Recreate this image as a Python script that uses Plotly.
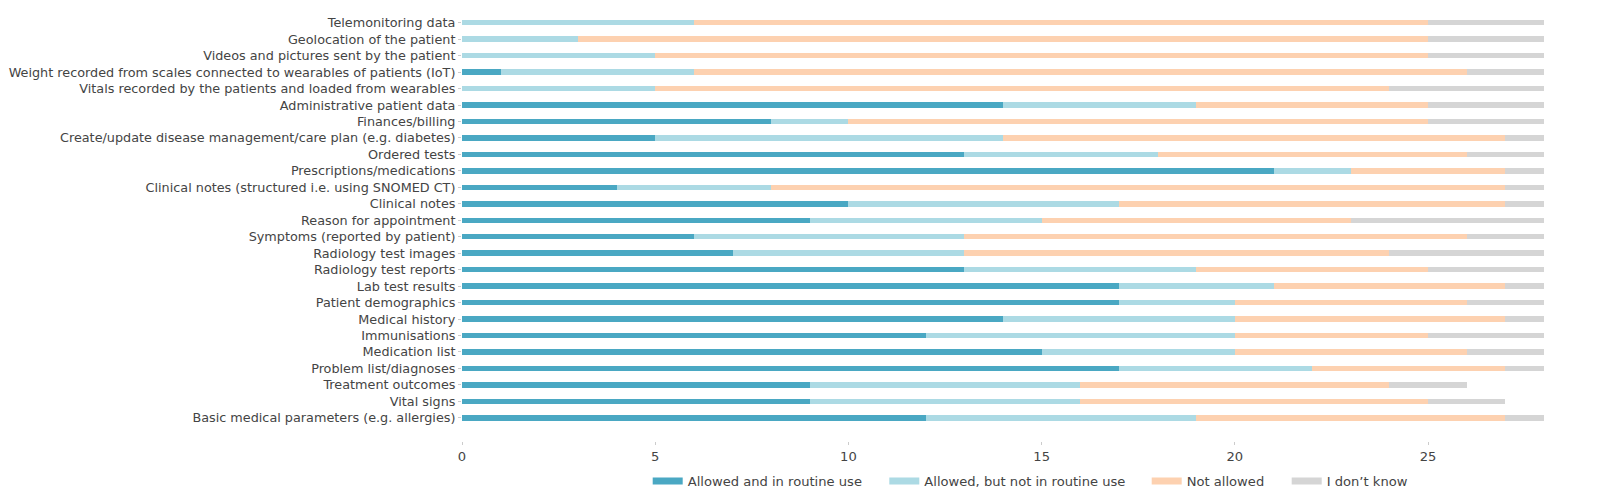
import plotly.graph_objects as go

categories = [
    "Telemonitoring data",
    "Geolocation of the patient",
    "Videos and pictures sent by the patient",
    "Weight recorded from scales connected to wearables of patients (IoT)",
    "Vitals recorded by the patients and loaded from wearables",
    "Administrative patient data",
    "Finances/billing",
    "Create/update disease management/care plan (e.g. diabetes)",
    "Ordered tests",
    "Prescriptions/medications",
    "Clinical notes (structured i.e. using SNOMED CT)",
    "Clinical notes",
    "Reason for appointment",
    "Symptoms (reported by patient)",
    "Radiology test images",
    "Radiology test reports",
    "Lab test results",
    "Patient demographics",
    "Medical history",
    "Immunisations",
    "Medication list",
    "Problem list/diagnoses",
    "Treatment outcomes",
    "Vital signs",
    "Basic medical parameters (e.g. allergies)",
]

allowed_routine = [0, 0, 0, 1, 0, 14, 8, 5, 13, 21, 4, 10, 9, 6, 7, 13, 17, 17, 14, 12, 15, 17, 9, 9, 12]
allowed_not_routine = [6, 3, 5, 5, 5, 5, 2, 9, 5, 2, 4, 7, 6, 7, 6, 6, 4, 3, 6, 8, 5, 5, 7, 7, 7]
not_allowed = [19, 22, 20, 20, 19, 6, 15, 13, 8, 4, 19, 10, 8, 13, 11, 6, 6, 6, 7, 5, 6, 5, 8, 9, 8]
dont_know = [3, 3, 3, 2, 4, 3, 3, 1, 2, 1, 1, 1, 5, 2, 4, 3, 1, 2, 1, 3, 2, 1, 2, 2, 1]

series_names = ["Allowed and in routine use", "Allowed, but not in routine use", "Not allowed", "I don\u2019t know"]
series_values = [allowed_routine, allowed_not_routine, not_allowed, dont_know]
colors = ["#4aa8c3", "#acdae4", "#fdd1b0", "#d5d5d5"]

x_ticks = [0, 5, 10, 15, 20, 25]

font_family = "DejaVu Sans"
text_color = "#444444"
fs = 13.1
fs_y = 12.8

# layout geometry (figure pixels)
L, R, T, B = 454, 63, 5, 60.5
plot_w = 1599 - L - R
# legend entry left positions (figure px) for the separate legends
legend_lefts = [639.7, 876.3, 1138.7, 1278.7]
legend_ids = ["legend", "legend2", "legend3", "legend4"]

fig = go.Figure()
for name, vals, col in zip(series_names, series_values, colors):
    fig.add_trace(go.Bar(
        y=categories, x=vals, orientation="h", name=name,
        marker=dict(color=col, line=dict(width=0)),
        width=0.33, showlegend=False, hoverinfo="x+y+name",
    ))
for name, col, lid in zip(series_names, colors, legend_ids):
    fig.add_trace(go.Scatter(
        x=[None], y=[None], mode="lines", name=name,
        line=dict(color=col, width=7), showlegend=True, legend=lid,
    ))

legend_y = -0.0945
leg_common = dict(
    orientation="h", xanchor="left", y=legend_y, yanchor="middle",
    font=dict(family=font_family, size=fs, color=text_color),
    bgcolor="rgba(0,0,0,0)", borderwidth=0,
)
legend_layout = {}
for lid, lx in zip(legend_ids, legend_lefts):
    legend_layout[lid] = dict(leg_common, x=(lx - L) / plot_w)

fig.update_layout(
    width=1599, height=494,
    barmode="stack",
    paper_bgcolor="white", plot_bgcolor="white",
    margin=dict(l=L, r=R, t=T, b=B, autoexpand=False),
    font=dict(family=font_family, size=fs, color=text_color),
    xaxis=dict(
        range=[0, 28], tickvals=x_ticks, ticktext=[str(v) for v in x_ticks],
        showgrid=False, zeroline=False, showline=False,
        ticks="outside", ticklen=3, tickcolor="#cccccc", tickwidth=1,
        tickfont=dict(family=font_family, size=fs, color=text_color),
    ),
    yaxis=dict(
        categoryorder="array", categoryarray=list(reversed(categories)),
        range=[-1.41, 24.59],
        showgrid=False, zeroline=False, showline=False,
        ticks="outside", ticklen=3, tickcolor="#cccccc", tickwidth=1,
        tickfont=dict(family=font_family, size=fs_y, color=text_color),
    ),
    **legend_layout,
)

fig.write_html("out.html")
